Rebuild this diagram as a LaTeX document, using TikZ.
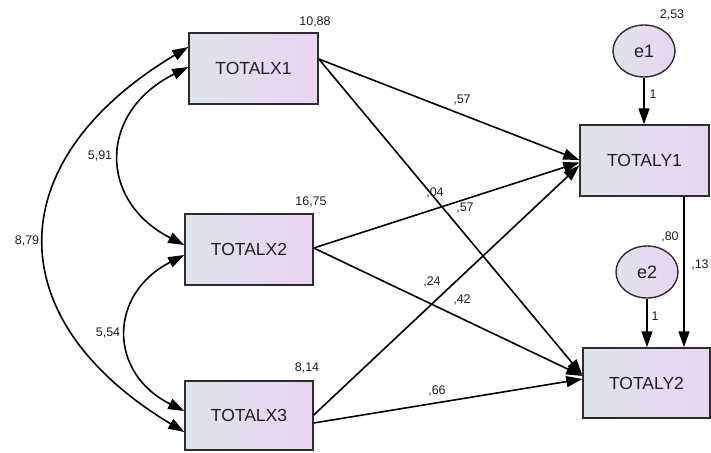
\documentclass[tikz,border=0pt]{standalone}
\usepackage{fontspec}
\setmainfont{Liberation Sans}
\usetikzlibrary{arrows.meta,shapes.geometric}
\definecolor{boxL}{RGB}{222,228,234}
\definecolor{boxR}{RGB}{234,212,242}
\definecolor{edgegray}{RGB}{45,45,45}
\definecolor{txt}{RGB}{30,30,40}
\tikzset{
  obsbox/.style={draw=edgegray, line width=1.5pt, left color=boxL, right color=boxR,
    minimum width=#1, inner sep=0pt, font=\fontsize{17.5}{20}\selectfont, text=txt},
  errnode/.style={ellipse, draw=edgegray, line width=1.4pt, left color=boxL, right color=boxR,
    minimum width=62pt, minimum height=52pt, inner sep=0pt, font=\fontsize{18}{20}\selectfont, text=txt},
  lbl/.style={font=\fontsize{12.5}{14}\selectfont, text=txt, inner sep=0pt},
  path/.style={line width=1.6pt, -{Triangle[length=16pt,width=11pt]}},
  cov/.style={line width=1.6pt, {Triangle[length=16pt,width=11pt]}-{Triangle[length=16pt,width=11pt]}}
}
\begin{document}
\begin{tikzpicture}[x=1pt,y=-1pt]
\useasboundingbox (0,0) rectangle (711,452);
% observed variables
\node[obsbox=129pt, minimum height=71pt] (X1) at (253.5,68.5) {TOTALX1};
\node[obsbox=128pt, minimum height=71pt] (X2) at (249,249.5) {TOTALX2};
\node[obsbox=128pt, minimum height=69pt] (X3) at (249,415.5) {TOTALX3};
\node[obsbox=129pt, minimum height=71pt] (Y1) at (644.5,160.5) {TOTALY1};
\node[obsbox=127pt, minimum height=70pt] (Y2) at (646.5,383) {TOTALY2};
% errors
\node[errnode] (e1) at (644,51) {e1};
\node[errnode] (e2) at (647,272) {e2};
% endpoints
\coordinate (x1o) at ([yshift=9.5pt]X1.east);
\coordinate (x2o) at ([yshift=1.5pt]X2.east);
\coordinate (x3a) at ([yshift=0.5pt]X3.east);
\coordinate (x3b) at ([yshift=-7.5pt]X3.east);
\coordinate (y1a) at ([yshift=0.5pt]Y1.west);
\coordinate (y1b) at ([yshift=-2pt]Y1.west);
\coordinate (y1c) at ([yshift=-5pt]Y1.west);
\coordinate (y2a) at ([yshift=8pt]Y2.west);
\coordinate (y2b) at ([yshift=7pt]Y2.west);
\coordinate (y2c) at ([yshift=4pt]Y2.west);
% regression paths
\draw[path] (x1o) -- (y1a);
\draw[path] (x1o) -- (y2a);
\draw[path] (x2o) -- (y1b);
\draw[path] (x2o) -- (y2b);
\draw[path] (x3a) -- (y1c);
\draw[path] (x3b) -- (y2c);
\draw[path] ([xshift=39.5pt]Y1.south) -- ([xshift=39.5pt]Y1.south |- Y2.north);
\draw[path] (e1.south) -- (e1.south |- Y1.north);
\draw[path] (e2.south) -- (e2.south |- Y2.north);
% covariances
\coordinate (c1a) at ([yshift=21.5pt]X1.west);
\coordinate (c1b) at ([yshift=1.5pt]X1.west);
\coordinate (c2a) at ([yshift=4.5pt]X2.west);
\coordinate (c2b) at ([yshift=-5.5pt]X2.west);
\coordinate (c3a) at ([yshift=4.5pt]X3.west);
\coordinate (c3b) at ([yshift=-16.5pt]X3.west);
\draw[cov] (c1a) .. controls (-2,161) and (-2,320) .. (c3b);
\draw[cov] (c1b) .. controls (98,112) and (98,201) .. (c2a);
\draw[cov] (c2b) .. controls (108,294) and (108,373) .. (c3a);
% labels
\node[lbl] (l1088) at (315,22) {10,88};
\node[lbl] (l1675) at (311,202) {16,75};
\node[lbl] (l814) at (307,368) {8,14};
\node[lbl] (l253) at (672,15) {2,53};
\node[lbl] (le1) at (653,94) {1};
\node[lbl] (le2) at (655,316) {1};
\node[lbl] (l80) at (670,237) {,80};
\node[lbl] (l13) at (700,265) {,13};
\node[lbl] (l57a) at (462,100) {,57};
\node[lbl] (l04) at (435,193) {,04};
\node[lbl] (l57b) at (465,208) {,57};
\node[lbl] (l24) at (432,282) {,24};
\node[lbl] (l42) at (462,300) {,42};
\node[lbl] (l66) at (437,391) {,66};
\node[lbl] (l591) at (100,156) {5,91};
\node[lbl] (l879) at (27,241) {8,79};
\node[lbl] (l554) at (108,333) {5,54};
\end{tikzpicture}
\end{document}
